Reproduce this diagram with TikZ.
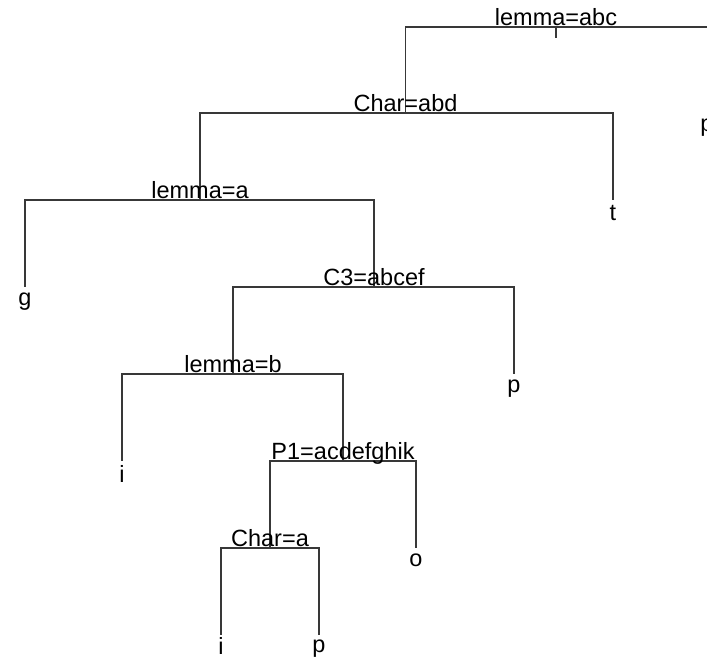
\documentclass[tikz,border=0pt]{standalone}
\usepackage{fontspec}
\setmainfont{Liberation Sans}
\begin{document}
\begin{tikzpicture}[x=1pt,y=-1pt,
  branch/.style={draw=black!78, line width=1.4pt},
  split/.style={anchor=base, inner sep=0pt, font=\fontsize{23.5}{28}\selectfont},
  leaf/.style={anchor=base, inner sep=0pt, font=\fontsize{23.5}{28}\selectfont}]
\useasboundingbox (0,0) rectangle (707,657);
% split positions
\coordinate (n1) at (556,27);
\coordinate (s1) at (556,38);
\coordinate (n2) at (405.5,113);
\coordinate (n3) at (200,200);
\coordinate (n4) at (374,287);
\coordinate (n5) at (233,374);
\coordinate (n6) at (343,461);
\coordinate (n7) at (270,548);
% leaf positions
\coordinate (L1) at (709,113);
\coordinate (L2) at (613,200);
\coordinate (L3) at (25,287);
\coordinate (L4) at (514,374);
\coordinate (L5) at (122,461);
\coordinate (L6) at (416,548);
\coordinate (L7) at (221,635);
\coordinate (L8) at (319,635);
% branches
\draw[branch] (n1) -- (s1);
\draw[branch] (n1) -| (n2);
\draw[branch] (n1) -| (L1);
\draw[branch] (n2) -| (n3);
\draw[branch] (n2) -| (L2);
\draw[branch] (n3) -| (L3);
\draw[branch] (n3) -| (n4);
\draw[branch] (n4) -| (n5);
\draw[branch] (n4) -| (L4);
\draw[branch] (n5) -| (L5);
\draw[branch] (n5) -| (n6);
\draw[branch] (n6) -| (n7);
\draw[branch] (n6) -| (L6);
\draw[branch] (n7) -| (L7);
\draw[branch] (n7) -| (L8);
% split labels
\node[split] (t1) at (556,25.5) {lemma=abc};
\node[split] (t2) at (405.5,111.5) {Char=abd};
\node[split] (t3) at (200,198.5) {lemma=a};
\node[split] (t4) at (374,285.5) {C3=abcef};
\node[split] (t5) at (233,372.5) {lemma=b};
\node[split] (t6) at (343,459.5) {P1=acdefghik};
\node[split] (t7) at (270,546.5) {Char=a};
% leaf labels
\node[leaf] (f1) at (707,131) {p};
\node[leaf] (f2) at (613,220) {t};
\node[leaf] (f3) at (25,305) {g};
\node[leaf] (f4) at (514,392) {p};
\node[leaf] (f5) at (122,482) {i};
\node[leaf] (f6) at (416,566) {o};
\node[leaf] (f7) at (221,654) {i};
\node[leaf] (f8) at (319,652) {p};
\end{tikzpicture}
\end{document}
